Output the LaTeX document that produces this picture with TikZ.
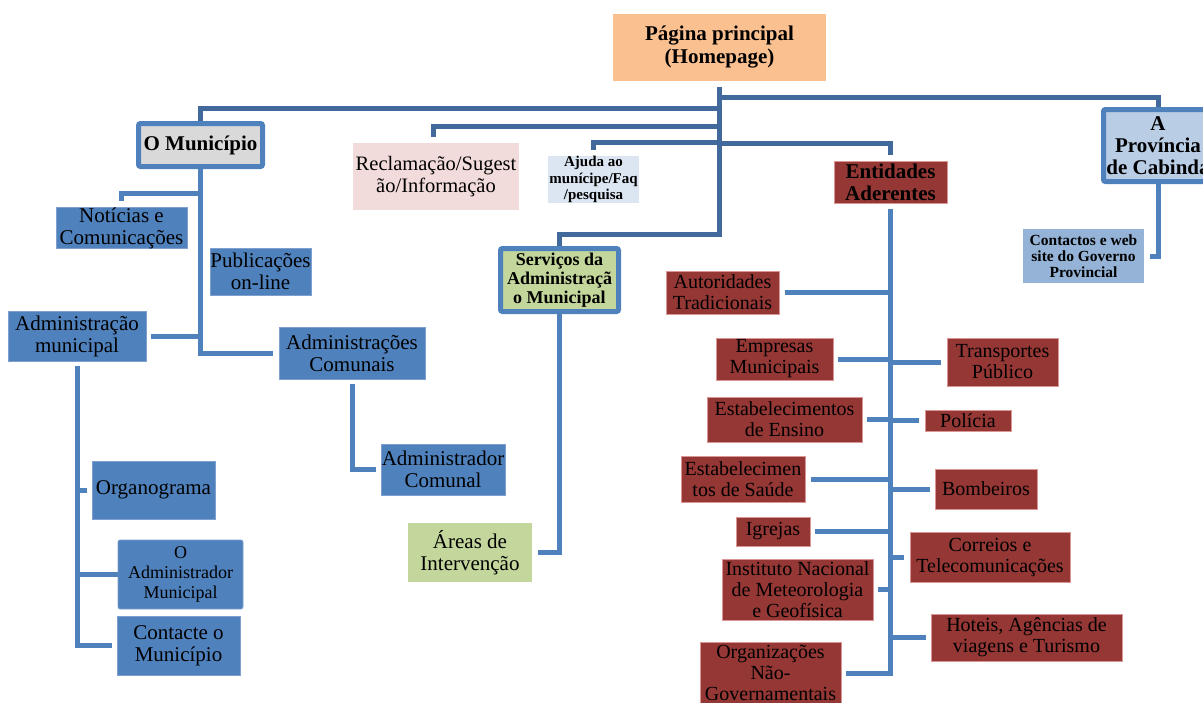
\documentclass[tikz,border=0pt]{standalone}
\usepackage{fontspec}
\setmainfont{Liberation Serif}
\usetikzlibrary{calc}
\definecolor{corange}{HTML}{FAC090}
\definecolor{cgray}{HTML}{D9D9D9}
\definecolor{cframe}{HTML}{4F81BD}
\definecolor{cpink}{HTML}{F2DCDB}
\definecolor{cpaleblue}{HTML}{DCE6F2}
\definecolor{cred}{HTML}{953735}
\definecolor{credb}{HTML}{D99694}
\definecolor{cprov}{HTML}{B9CDE5}
\definecolor{ccont}{HTML}{95B3D7}
\definecolor{cblue}{HTML}{4F81BD}
\definecolor{cblueb}{HTML}{7F9FCF}
\definecolor{cgreen}{HTML}{C3D69B}
\definecolor{ctop}{HTML}{41699C}
\definecolor{cline}{HTML}{4F81BD}
\begin{document}
\begin{tikzpicture}[x=1pt,y=-1pt,
  base/.style={inner sep=0pt, align=center, font=\fontsize{21}{22}\selectfont},
  bluebox/.style={base, fill=cblue, draw=cblueb, line width=0.6pt},
  redbox/.style={base, fill=cred, draw=credb, line width=0.6pt, font=\fontsize{20}{21}\selectfont},
  plainbox/.style={base},
  framed/.style={base, draw=cframe, line width=5pt, rounded corners=2pt, font=\bfseries\fontsize{21}{22}\selectfont},
  topline/.style={draw=ctop, line width=5pt},
  subline/.style={draw=cline, line width=5pt},
  sz/.style n args={2}{minimum width=#1pt, minimum height=#2pt}
]
\fill[white] (0,0) rectangle (1203,702);
\useasboundingbox (0,0) rectangle (1203,702);

% top level
\node[base, fill=corange, font=\bfseries\fontsize{21}{23}\selectfont, sz={213}{67}] (home) at (719.5,47.5) {Página principal\\(Homepage)};
\node[framed, fill=cgray, sz={124}{43}] (mun) at (200.5,145) {O Município};
\node[base, fill=cpink, font=\fontsize{20.5}{22}\selectfont, sz={166}{67}] (recl) at (436,176.5) {Reclamação/Sugest\\ão/Informação};
\node[base, fill=cpaleblue, font=\bfseries\fontsize{15}{16.5}\selectfont, sz={91}{43}] (ajuda) at (593.5,179.5) {Ajuda ao\\munícipe/Faq\\/pesquisa};
\node[redbox, font=\bfseries\fontsize{21}{22}\selectfont, sz={113}{42}] (ent) at (890.5,182) {Entidades\\Aderentes};
\node[framed, fill=cprov, sz={109}{72}] (prov) at (1158,145.5) {A\\Província\\de Cabinda};
\node[base, fill=ccont, font=\bfseries\fontsize{15.5}{16}\selectfont, sz={121}{54}] (cont) at (1083.5,256) {Contactos e web\\site do Governo\\Provincial};
\node[framed, fill=cgreen, font=\bfseries\fontsize{18}{19}\selectfont, sz={118}{63}] (serv) at (559.5,280) {Serviços da\\Administraçã\\o Municipal};

% Municipio subtree
\node[bluebox, sz={131}{38}] (not) at (121.5,228) {Notícias e\\Comunicações};
\node[bluebox, sz={101}{47}] (pub) at (260.5,271.5) {Publicações\\on-line};
\node[bluebox, sz={138}{50}] (admm) at (77,336) {Administração\\municipal};
\node[bluebox, sz={146}{52}] (admc) at (352,353) {Administrações\\Comunais};
\node[bluebox, sz={124}{51}] (admcom) at (443,469.5) {Administrador\\Comunal};
\node[bluebox, sz={123}{58}] (org) at (153.5,490) {Organograma};
\node[bluebox, rounded corners=2pt, font=\fontsize{18}{20}\selectfont, sz={125}{69}] (oadm) at (180.5,574.5) {O\\Administrador\\Municipal};
\node[bluebox, sz={123}{59}] (contm) at (178.5,645.5) {Contacte o\\Município};
\node[base, fill=cgreen, sz={124}{59}] (areas) at (470,552.5) {Áreas de\\Intervenção};

% Entidades subtree
\node[redbox, sz={113}{43}] (aut) at (722.5,292.5) {Autoridades\\Tradicionais};
\node[redbox, sz={117}{42}] (emp) at (774.5,359) {Empresas\\Municipais};
\node[redbox, sz={111}{48}] (tra) at (1002.5,362) {Transportes\\Público};
\node[redbox, sz={155}{45}] (ens) at (784.5,419.5) {Estabelecimentos\\de Ensino};
\node[redbox, sz={86}{21}] (pol) at (968,420.5) {Polícia};
\node[redbox, sz={124}{46}] (sau) at (743,479) {Estabelecimen\\tos de Saúde};
\node[redbox, sz={102}{40}] (bom) at (986,489) {Bombeiros};
\node[redbox, sz={74}{29}] (igr) at (773,531.5) {Igrejas};
\node[redbox, sz={160}{50}] (cor) at (990,557) {Correios e\\Telecomunicações};
\node[redbox, sz={151}{61}] (ins) at (797.5,589.5) {Instituto Nacional\\de Meteorologia\\e Geofísica};
\node[redbox, sz={191}{47}] (hot) at (1026.5,637.5) {Hoteis, Agências de\\viagens e Turismo};
\node[redbox, sz={141}{62}] (ong) at (770.5,673) {Organizações\\Não-\\Governamentais};

% top connectors
\draw[topline] ([yshift=-6pt]home.south) -- ++(0,147) -| (serv.north);
\draw[topline] ([yshift=-27pt]home.south) -| (mun.north);
\draw[topline] ([yshift=-16pt]home.south) -| (prov.north);
\draw[topline] ([yshift=-45pt]home.south) -| ([xshift=-3pt,yshift=6pt]recl.north);
\draw[topline] ([yshift=-61pt]home.south) -| ([yshift=6pt]ajuda.north);
\draw[topline] ([yshift=-62pt]home.south) -| ([yshift=6pt]ent.north);

% Municipio connectors
\draw[subline] (mun.south) |- ([xshift=-6pt]admc.west);
\draw[subline] ([yshift=-24pt]mun.south) -| ([yshift=6pt]not.north);
\draw[subline] (mun.south |- admm.east) -- ([xshift=5pt]admm.east);
\draw[subline] ([yshift=-5pt]admc.south) |- ([xshift=-5pt]admcom.west);
\draw[subline] ([yshift=-5pt]admm.south) |- ([xshift=-5pt]contm.west);
\draw[subline] (admm.south |- org.west) -- ([xshift=-5pt]org.west);
\draw[subline] (admm.south |- oadm.west) -- (oadm.west);

% Servicos
\draw[subline] (serv.south) |- ([xshift=6pt]areas.east);

% Provincia
\draw[subline] (prov.south) |- ([xshift=6pt]cont.east);

% Entidades
\draw[subline] ([yshift=-6pt]ent.south) |- ([xshift=5pt]ong.east);
\draw[subline] (ent.south |- aut.east) -- ([xshift=6pt]aut.east);
\draw[subline] (ent.south |- emp.east) -- ([xshift=5pt]emp.east);
\draw[subline] (ent.south |- ens.east) -- ([xshift=5pt]ens.east);
\draw[subline] (ent.south |- sau.east) -- ([xshift=6pt]sau.east);
\draw[subline] (ent.south |- igr.east) -- ([xshift=5pt]igr.east);
\draw[subline] (ent.south |- ins.east) -- ([xshift=5pt]ins.east);
\draw[subline] (ent.south |- tra.west) -- ([xshift=-6pt]tra.west);
\draw[subline] (ent.south |- pol.west) -- ([xshift=-6pt]pol.west);
\draw[subline] (ent.south |- bom.west) -- ([xshift=-5pt]bom.west);
\draw[subline] (ent.south |- cor.west) -- ([xshift=-6pt]cor.west);
\draw[subline] (ent.south |- hot.west) -- ([xshift=-5pt]hot.west);
\end{tikzpicture}
\end{document}
